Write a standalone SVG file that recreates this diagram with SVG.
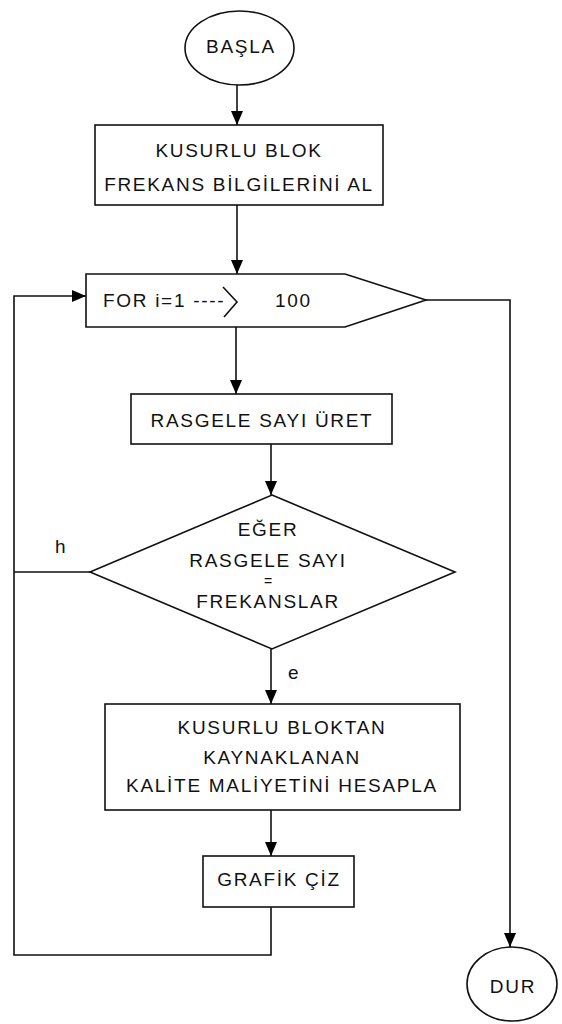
<svg xmlns="http://www.w3.org/2000/svg" width="562" height="1024" viewBox="0 0 562 1024">
  <defs>
    <marker id="arrow" markerWidth="14" markerHeight="12" refX="14" refY="6" orient="auto" markerUnits="userSpaceOnUse">
      <path d="M0,0 L14,6 L0,12 Z" fill="#000"/>
    </marker>
    <style>
      .shape { fill: #fff; stroke: #111; stroke-width: 1.6; }
      .line { fill: none; stroke: #111; stroke-width: 1.6; }
      .txt { font-family: "Liberation Sans", Arial, sans-serif; font-size: 19px; fill: #111; text-anchor: middle; letter-spacing: 1.7px; }
      .lbl { font-family: "Liberation Sans", Arial, sans-serif; font-size: 19px; fill: #111; letter-spacing: 1.7px; }
      .eq { font-family: "Liberation Sans", Arial, sans-serif; font-size: 14px; fill: #111; text-anchor: middle; }
    </style>
  </defs>
  <rect width="562" height="1024" fill="#fff"/>

  <!-- connectors -->
  <g id="connectors">
    <line class="line" x1="237" y1="85" x2="237" y2="125" marker-end="url(#arrow)"/>
    <line class="line" x1="237" y1="205" x2="237" y2="274" marker-end="url(#arrow)"/>
    <line class="line" x1="236" y1="327" x2="236" y2="394" marker-end="url(#arrow)"/>
    <line class="line" x1="271" y1="444" x2="271" y2="495" marker-end="url(#arrow)"/>
    <line class="line" x1="271" y1="649" x2="271" y2="704" marker-end="url(#arrow)"/>
    <line class="line" x1="271" y1="810" x2="271" y2="856" marker-end="url(#arrow)"/>
    <!-- "no" branch joins the loop back -->
    <polyline class="line" points="90,572 14,572"/>
    <polyline class="line" points="271,907 271,955 14,955 14,296 86,296" marker-end="url(#arrow)"/>
    <!-- loop exit to DUR -->
    <polyline class="line" points="426,300 510,300 510,947" marker-end="url(#arrow)"/>
    <text class="lbl" x="55" y="553">h</text>
    <text class="lbl" x="288" y="679">e</text>
  </g>

  <g id="basla">
    <ellipse class="shape" cx="239.5" cy="48" rx="54.5" ry="37"/>
    <text class="txt" x="241" y="53">BAŞLA</text>
  </g>

  <g id="frekans-al">
    <rect class="shape" x="95" y="125" width="288" height="80"/>
    <text class="txt" x="239" y="157">KUSURLU BLOK</text>
    <text class="txt" x="239" y="191">FREKANS BİLGİLERİNİ AL</text>
  </g>

  <g id="for-loop">
    <polygon class="shape" points="86,274 345,274 426,300 345,327 86,327"/>
    <text class="lbl" x="103" y="307">FOR i=1 ----</text>
    <polyline class="line" points="223,287 237,302 224,317" stroke-width="1.2"/>
    <text class="lbl" x="275" y="307">100</text>
  </g>

  <g id="rasgele">
    <rect class="shape" x="131" y="394" width="261" height="50"/>
    <text class="txt" x="262" y="427">RASGELE SAYI ÜRET</text>
  </g>

  <g id="eger">
    <polygon class="shape" points="272,495 455,572 272,649 90,572"/>
    <text class="txt" x="268" y="536">EĞER</text>
    <text class="txt" x="268" y="567">RASGELE SAYI</text>
    <text class="eq" x="268" y="586">=</text>
    <text class="txt" x="268" y="608">FREKANSLAR</text>
  </g>

  <g id="hesapla">
    <rect class="shape" x="105" y="704" width="355" height="106"/>
    <text class="txt" x="282" y="734">KUSURLU BLOKTAN</text>
    <text class="txt" x="282" y="764">KAYNAKLANAN</text>
    <text class="txt" x="282" y="792">KALİTE MALİYETİNİ HESAPLA</text>
  </g>

  <g id="grafik">
    <rect class="shape" x="203" y="856" width="151" height="51"/>
    <text class="txt" x="279" y="886">GRAFİK ÇİZ</text>
  </g>

  <g id="dur">
    <ellipse class="shape" cx="512" cy="984" rx="45" ry="37"/>
    <text class="txt" x="513" y="993">DUR</text>
  </g>
</svg>
